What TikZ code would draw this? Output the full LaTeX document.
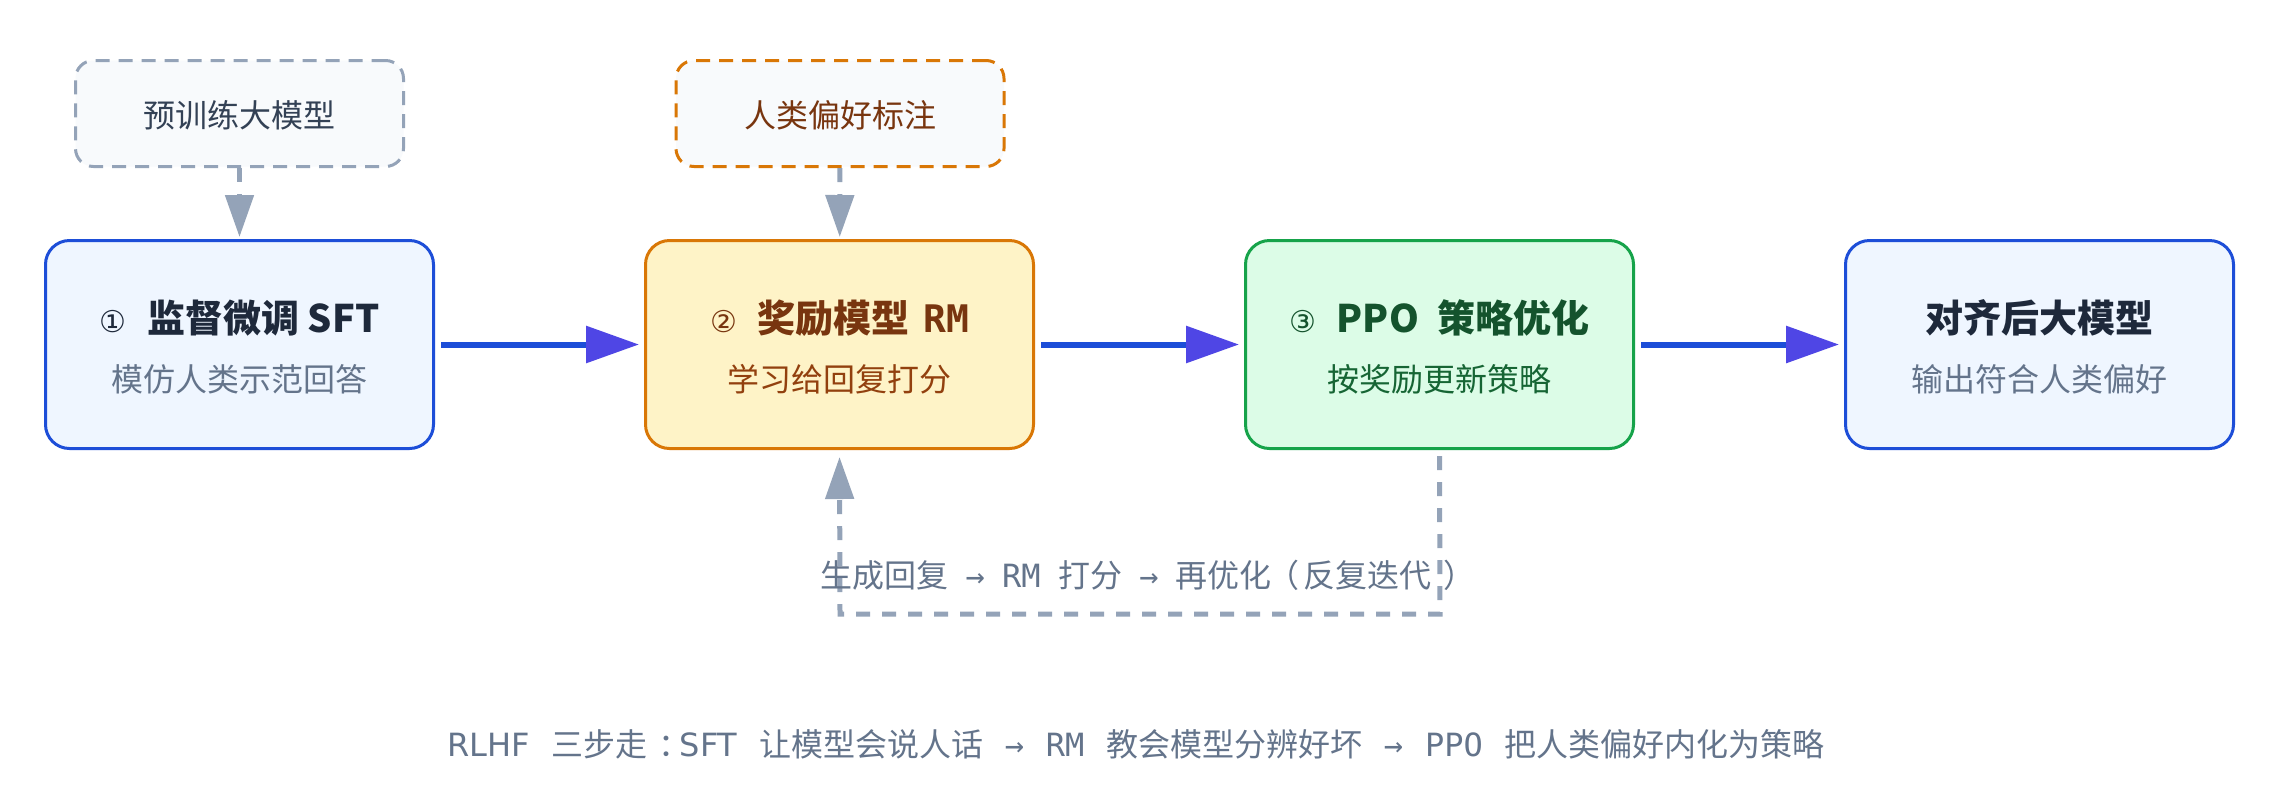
\documentclass[tikz,border=0pt]{standalone}
\usepackage{fontspec}
\setmainfont{Noto Sans CJK SC}
\newfontfamily\monof{DejaVu Sans Mono}
\newfontfamily\symf{DejaVu Sans}
\newcommand\capgap{\hspace{0.68em}}
\newcommand\fbgap{\hspace{0.54em}}
\usetikzlibrary{arrows.meta}
\definecolor{blueB}{HTML}{1D4ED8}
\definecolor{blueF}{HTML}{EFF6FF}
\definecolor{amberB}{HTML}{D97706}
\definecolor{amberF}{HTML}{FEF3C7}
\definecolor{amberT}{HTML}{78350F}
\definecolor{amberS}{HTML}{92400E}
\definecolor{greenB}{HTML}{16A34A}
\definecolor{greenF}{HTML}{DCFCE7}
\definecolor{greenT}{HTML}{14532D}
\definecolor{greenS}{HTML}{166534}
\definecolor{darkT}{HTML}{1E293B}
\definecolor{slateS}{HTML}{64748B}
\definecolor{slateL}{HTML}{94A3B8}
\definecolor{preF}{HTML}{F8FAFC}
\definecolor{preT}{HTML}{334155}
\definecolor{headC}{HTML}{4F46E5}
\tikzset{
  stepbox/.style={draw, rounded corners=12pt, line width=1.5pt, minimum width=194pt, minimum height=104pt, inner sep=0pt},
  inbox/.style={draw, fill=preF, rounded corners=9pt, line width=1.5pt, dash pattern=on 7pt off 4.5pt, minimum width=164pt, minimum height=53pt, inner sep=0pt},
  ttl/.style={font=\fontsize{19}{22}\selectfont\bfseries, inner sep=0pt},
  sub/.style={font=\fontsize{16}{19}\selectfont, inner sep=0pt},
  intext/.style={font=\fontsize{16}{19}\selectfont, inner sep=0pt},
  harrow/.style={draw=blueB, line width=3pt, -{Triangle[length=26.5pt, width=18pt, color=headC]}, shorten <=3pt, shorten >=2.5pt},
  dconn/.style={draw=slateL, line width=2.5pt, dash pattern=on 7pt off 6pt, -{Triangle[length=21pt, width=14pt]}},
}
\begin{document}
\begin{tikzpicture}[x=0.5pt, y=-0.5pt]
\useasboundingbox (0,0) rectangle (2280,810);
\fill[white] (0,0) rectangle (2280,810);

% top input boxes
\node[inbox, draw=slateL] (pre) at (239.5,113.5) {};
\node[intext, text=preT] (pretxt) at (239.5,115) {预训练大模型};
\node[inbox, draw=amberB] (pref) at (840,113.5) {};
\node[intext, text=amberT] (preftxt) at (840,115) {人类偏好标注};

% main step boxes
\node[stepbox, draw=blueB, fill=blueF] (b1) at (239.5,344.5) {};
\node[stepbox, draw=amberB, fill=amberF] (b2) at (839.5,344.5) {};
\node[stepbox, draw=greenB, fill=greenF] (b3) at (1439.5,344.5) {};
\node[stepbox, draw=blueB, fill=blueF] (b4) at (2039.5,344.5) {};

\node[ttl, text=darkT] (t1) at (239.5,318) {{\symf\mdseries\fontsize{15}{18}\selectfont ①}\hspace{0.55em}监督微调 SFT};
\node[sub, text=slateS] (s1) at (239.5,379) {模仿人类示范回答};
\node[ttl, text=amberT] (t2) at (839.5,318) {{\symf\mdseries\fontsize{15}{18}\selectfont ②}\hspace{0.55em}奖励模型\hspace{0.35em}{\monof RM}};
\node[sub, text=amberS] (s2) at (839.5,379) {学习给回复打分};
\node[ttl, text=greenT] (t3) at (1439.5,318) {{\symf\mdseries\fontsize{15}{18}\selectfont ③}\hspace{0.55em}PPO\hspace{0.5em}策略优化};
\node[sub, text=greenS] (s3) at (1439.5,379) {按奖励更新策略};
\node[ttl, text=darkT] (t4) at (2039.5,318) {对齐后大模型};
\node[sub, text=slateS] (s4) at (2039.5,379) {输出符合人类偏好};

% connectors
\draw[dconn, shorten >=1pt] (pre) -- (b1);
\draw[dconn, shorten >=1pt] (pref) -- (b2);
\draw[harrow] (b1) -- (b2);
\draw[harrow] (b2) -- (b3);
\draw[harrow] (b3) -- (b4);

\coordinate (fbr) at (1440,614);
\coordinate (fbl) at (840,614);
\draw[dconn, shorten <=3pt, shorten >=3.5pt] (b3.south) -- (fbr) -- (fbl) -- (b2.south);

\node[sub, text=slateS, anchor=west] (fbtxt) at (820,575) {生成回复\fbgap{\monof →}\fbgap{\monof RM}\fbgap 打分\fbgap{\monof →}\fbgap 再优化\hspace{-0.15em}（\hspace{0.15em}反复迭代\hspace{0.35em}）};

\node[sub, text=slateS, anchor=west] (cap) at (447,744) {{\symf RLHF}\capgap 三步走\hspace{0.33em}：\hspace{-0.33em}{\symf SFT}\capgap 让模型会说人话\capgap{\monof →}\capgap{\monof RM}\capgap 教会模型分辨好坏\capgap{\monof →}\capgap{\monof PPO}\capgap 把人类偏好内化为策略};
\end{tikzpicture}
\end{document}
